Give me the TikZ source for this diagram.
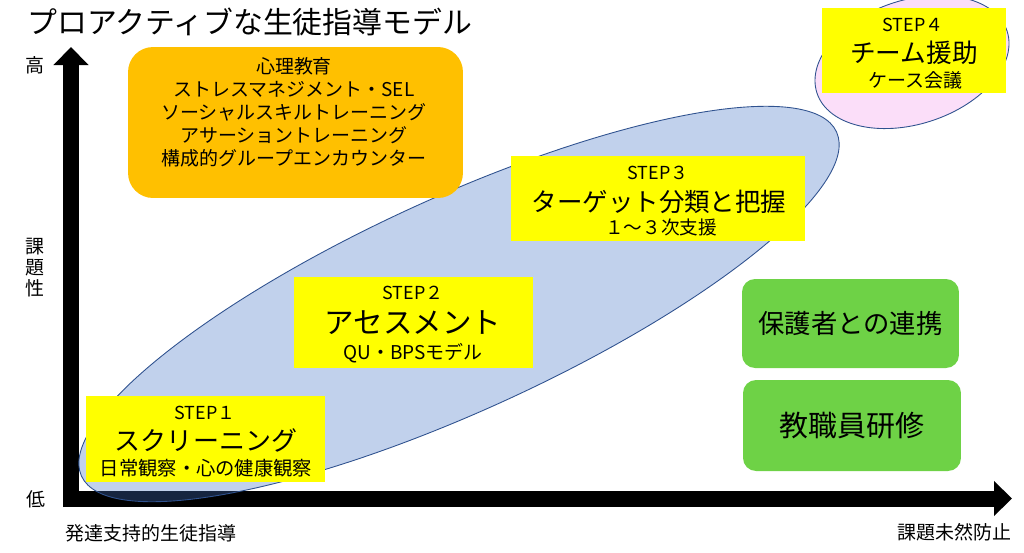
\documentclass[tikz,border=0pt]{standalone}
\usepackage{fontspec}
\setmainfont{Noto Sans CJK JP}
\usetikzlibrary{arrows.meta,positioning,shapes.geometric}
\definecolor{psyorange}{RGB}{255,192,0}
\definecolor{stepyellow}{RGB}{255,255,0}
\definecolor{teamgreen}{RGB}{110,210,70}
\definecolor{ovalblue}{RGB}{68,114,196}
\definecolor{ovalline}{RGB}{47,82,143}
\definecolor{ovalpink}{RGB}{251,222,249}
\tikzset{axis/.style={line width=0.32cm,line cap=butt,-{Triangle[width=0.68cm,length=0.36cm]}}}
\tikzset{oval/.style={ellipse,draw=ovalline,line width=0.5pt,inner sep=0pt}}
\tikzset{stepbox/.style={rectangle,fill=stepyellow,inner sep=0pt,minimum width=4.78cm,minimum height=1.72cm}}
\tikzset{teambox/.style={rectangle,rounded corners=0.26cm,fill=teamgreen,inner sep=0pt}}
\tikzset{steptag/.style={inner sep=0pt,font=\fontsize{10.2}{12}\selectfont}}
\tikzset{stepsub/.style={inner sep=0pt,font=\fontsize{10.8}{13}\selectfont}}
\tikzset{axislabel/.style={inner sep=0pt,font=\fontsize{10.8}{12}\selectfont}}

\begin{document}
\begin{tikzpicture}[x=0.02cm,y=-0.02cm]
  \useasboundingbox (0,0) rectangle (1024,552);
  \node[anchor=west,inner sep=0pt,font=\fontsize{17}{20}\selectfont] (title) at (27,22) {プロアクティブな生徒指導モデル};
  \coordinate (ybase) at (71,507);
  \coordinate (ytip) at (71,47);
  \coordinate (xbase) at (63,498.5);
  \coordinate (xtip) at (1012,498.5);
  \draw[axis] (ybase) -- (ytip);
  \draw[axis] (xbase) -- (xtip);
  \node[axislabel] (high) at (35,65) {高};
  \node[axislabel,align=center,font=\fontsize{10.8}{12}\selectfont] (issue) at (35,268) {課\\題\\性};
  \node[axislabel] (low) at (36,499) {低};
  \node[axislabel,anchor=west] (develop) at (65,533) {発達支持的生徒指導};
  \node[axislabel,anchor=east] (prevent) at (1012,532) {課題未然防止};

  \node[oval,fill=ovalblue,fill opacity=0.33,minimum width=16.6cm,minimum height=4.28cm,rotate=24.5] (blueoval) at (459,304) {};
  \node[oval,fill=ovalpink,minimum width=4cm,minimum height=2.48cm,rotate=18] (pinkoval) at (912,62) {};

  \node[rectangle,rounded corners=0.5cm,fill=psyorange,minimum width=6.7cm,minimum height=3.02cm] (psy) at (295.5,122.5) {};
  \node[align=center,inner sep=0pt,font=\fontsize{10.8}{13}\selectfont] (psytext) at (294,112.5)
    {心理教育\\ストレスマネジメント・SEL\\ソーシャルスキルトレーニング\\アサーショントレーニング\\構成的グループエンカウンター};

  \node[stepbox] (step1) at (205.5,439) {};
  \node[steptag] (s1tag) at (205,413) {STEP１};
  \node[inner sep=0pt,font=\fontsize{14.8}{17}\selectfont] (s1title) at (206,440) {スクリーニング};
  \node[stepsub,font=\fontsize{11}{13}\selectfont] (s1sub) at (206,468) {日常観察・心の健康観察};

  \node[stepbox,minimum height=1.82cm] (step2) at (413.5,322.5) {};
  \node[steptag] (s2tag) at (413,293) {STEP２};
  \node[inner sep=0pt,font=\fontsize{16.8}{19}\selectfont] (s2title) at (413,323) {アセスメント};
  \node[stepsub] (s2sub) at (413,353) {QU・BPSモデル};

  \node[stepbox,minimum width=5.88cm,minimum height=1.7cm] (step3) at (658,198.5) {};
  \node[steptag] (s3tag) at (658,173) {STEP３};
  \node[inner sep=0pt,font=\fontsize{14.5}{17}\selectfont] (s3title) at (659,202) {ターゲット分類と把握};
  \node[stepsub,font=\fontsize{10.6}{13}\selectfont] (s3sub) at (661,227) {１～３次支援};

  \node[stepbox,minimum width=3.68cm,minimum height=1.7cm] (step4) at (914,50.5) {};
  \node[steptag] (s4tag) at (913,25) {STEP４};
  \node[inner sep=0pt,font=\fontsize{14.6}{17}\selectfont] (s4title) at (914,53) {チーム援助};
  \node[stepsub] (s4sub) at (915,80) {ケース会議};

  \node[teambox,minimum width=4.34cm,minimum height=1.78cm,font=\fontsize{15}{18}\selectfont] (parent) at (850.5,323.5) {保護者との連携};
  \node[teambox,minimum width=4.36cm,minimum height=1.82cm,font=\fontsize{16.5}{19}\selectfont] (staff) at (852,425.5) {教職員研修};
\end{tikzpicture}
\end{document}
